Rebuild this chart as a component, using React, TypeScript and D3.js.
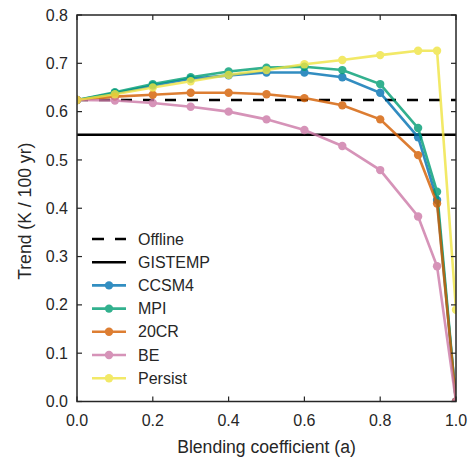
import React, { useEffect, useRef } from 'react'
import * as d3 from 'd3'

const alphas = [0, 0.1, 0.2, 0.3, 0.4, 0.5, 0.6, 0.7, 0.8, 0.9, 0.95, 1.0]
const ccsm4 = [0.624, 0.638, 0.654, 0.668, 0.675, 0.681, 0.681, 0.671, 0.639, 0.547, 0.417, 0.0]
const mpi = [0.624, 0.640, 0.657, 0.671, 0.683, 0.691, 0.693, 0.686, 0.657, 0.566, 0.434, 0.0]
const cr20 = [0.624, 0.631, 0.635, 0.639, 0.639, 0.636, 0.628, 0.613, 0.584, 0.510, 0.410, 0.0]
const be = [0.624, 0.623, 0.618, 0.610, 0.600, 0.584, 0.562, 0.529, 0.479, 0.383, 0.280, 0.0]
const persist = [0.624, 0.636, 0.650, 0.663, 0.676, 0.686, 0.698, 0.707, 0.717, 0.726, 0.726, 0.19]
const offline = 0.624
const gistemp = 0.552

const seriesNames = ['CCSM4', 'MPI', '20CR', 'BE', 'Persist']
const seriesValues = [ccsm4, mpi, cr20, be, persist]
const seriesColors = ['#0072B2', '#009E73', '#D55E00', '#CC79A7', '#F0E442']
const xTicks = [0, 0.2, 0.4, 0.6, 0.8, 1.0]
const yTicks = [0, 0.1, 0.2, 0.3, 0.4, 0.5, 0.6, 0.7, 0.8]

export default function App() {
  const ref = useRef<SVGSVGElement>(null)

  useEffect(() => {
    const svg = d3.select(ref.current)
    svg.selectAll('*').remove()
    const left = 77, right = 456, top = 15, bottom = 401.5
    const font = '"Liberation Sans", Arial, sans-serif'
    const ink = '#262626'

    const x = d3.scaleLinear().domain([0, 1]).range([left, right])
    const y = d3.scaleLinear().domain([0, 0.8]).range([bottom, top])

    svg.append('defs').append('clipPath').attr('id', 'plotclip')
      .append('rect')
      .attr('x', left).attr('y', top)
      .attr('width', right - left).attr('height', bottom - top)

    const plot = svg.append('g').attr('clip-path', 'url(#plotclip)')

    // reference lines
    plot.append('line')
      .attr('x1', left).attr('x2', right)
      .attr('y1', y(offline)).attr('y2', y(offline))
      .attr('stroke', '#000').attr('stroke-width', 2.6)
      .attr('stroke-dasharray', '11,11')
    plot.append('line')
      .attr('x1', left).attr('x2', right)
      .attr('y1', y(gistemp)).attr('y2', y(gistemp))
      .attr('stroke', '#000').attr('stroke-width', 2.6)

    const line = d3.line<number>()
      .x((d, i) => x(alphas[i]))
      .y(d => y(d))

    seriesValues.forEach((vals, k) => {
      const g = plot.append('g').attr('opacity', 0.8)
      g.append('path')
        .attr('d', line(vals))
        .attr('fill', 'none')
        .attr('stroke', seriesColors[k])
        .attr('stroke-width', 2.6)
      g.selectAll('circle')
        .data(vals)
        .enter()
        .append('circle')
        .attr('cx', (d, i) => x(alphas[i]))
        .attr('cy', d => y(d))
        .attr('r', 4.2)
        .attr('fill', seriesColors[k])
    })

    // frame
    svg.append('rect')
      .attr('x', left).attr('y', top)
      .attr('width', right - left).attr('height', bottom - top)
      .attr('fill', 'none').attr('stroke', ink).attr('stroke-width', 1.5)

    // ticks (inward, all four sides)
    xTicks.forEach(t => {
      svg.append('line').attr('x1', x(t)).attr('x2', x(t))
        .attr('y1', bottom).attr('y2', bottom - 5).attr('stroke', ink).attr('stroke-width', 1.2)
      svg.append('line').attr('x1', x(t)).attr('x2', x(t))
        .attr('y1', top).attr('y2', top + 5).attr('stroke', ink).attr('stroke-width', 1.2)
      svg.append('text')
        .attr('x', x(t)).attr('y', 426)
        .attr('text-anchor', 'middle')
        .style('font-family', font).style('font-size', '16px').attr('fill', ink)
        .text(d3.format('.1f')(t))
    })
    yTicks.forEach(t => {
      svg.append('line').attr('x1', left).attr('x2', left + 5)
        .attr('y1', y(t)).attr('y2', y(t)).attr('stroke', ink).attr('stroke-width', 1.2)
      svg.append('line').attr('x1', right).attr('x2', right - 5)
        .attr('y1', y(t)).attr('y2', y(t)).attr('stroke', ink).attr('stroke-width', 1.2)
      svg.append('text')
        .attr('x', left - 9).attr('y', y(t)).attr('dy', '0.35em')
        .attr('text-anchor', 'end')
        .style('font-family', font).style('font-size', '16px').attr('fill', ink)
        .text(d3.format('.1f')(t))
    })

    // axis labels
    svg.append('text')
      .attr('x', (left + right) / 2).attr('y', 453)
      .attr('text-anchor', 'middle')
      .style('font-family', font).style('font-size', '17.6px').attr('fill', ink)
      .text('Blending coefficient (a)')
    svg.append('text')
      .attr('transform', 'translate(31,' + ((top + bottom) / 2 + 3) + ') rotate(-90)')
      .attr('text-anchor', 'middle')
      .style('font-family', font).style('font-size', '17.6px').attr('fill', ink)
      .text('Trend (K / 100 yr)')

    // legend
    const lx = 92, ly = 239, step = 23.2
    const legendItems = [
      { name: 'Offline', color: '#000', dash: '12,11', marker: false, op: 1 },
      { name: 'GISTEMP', color: '#000', dash: null, marker: false, op: 1 },
      ...seriesNames.map((n, i) => ({ name: n, color: seriesColors[i], dash: null, marker: true, op: 0.8 }))
    ]
    legendItems.forEach((it, i) => {
      const g = svg.append('g').attr('transform', 'translate(0,' + (ly + i * step) + ')')
      const gg = g.append('g').attr('opacity', it.op)
      gg.append('line').attr('x1', lx).attr('x2', lx + 34).attr('y1', 0).attr('y2', 0)
        .attr('stroke', it.color).attr('stroke-width', 2.6)
        .attr('stroke-dasharray', it.dash)
      if (it.marker) {
        gg.append('circle').attr('cx', lx + 17).attr('cy', 0).attr('r', 4.2).attr('fill', it.color)
      }
      g.append('text').attr('x', lx + 46).attr('y', 0).attr('dy', '0.35em')
        .style('font-family', font).style('font-size', '16px').attr('fill', ink)
        .text(it.name)
    })
  }, [])

  return (
    <div style={{ position: 'absolute', left: 0, top: 0 }}>
      <svg ref={ref} width={470} height={458}></svg>
    </div>
  )
}
